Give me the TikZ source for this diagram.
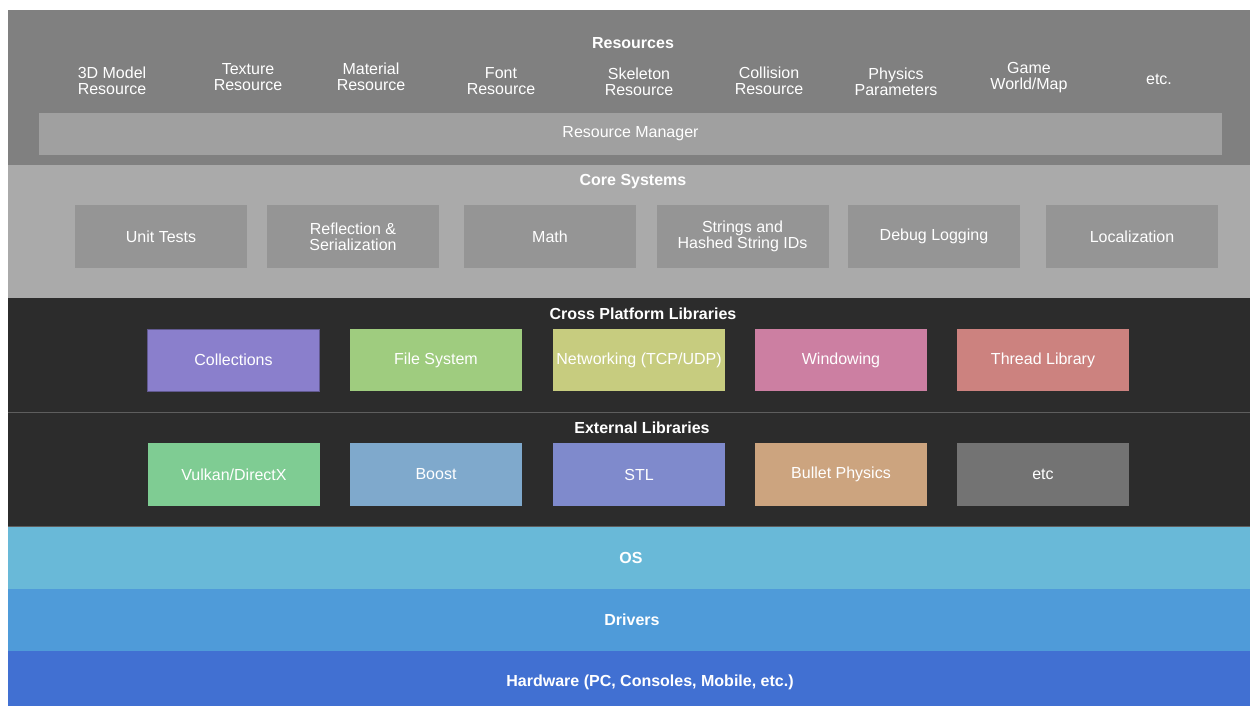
\documentclass[tikz,border=0pt]{standalone}
\usepackage{fontspec}
\setmainfont{Liberation Sans}
\usetikzlibrary{positioning}

\definecolor{resgray}{HTML}{808080}
\definecolor{mgrgray}{HTML}{A0A0A0}
\definecolor{coregray}{HTML}{AAAAAA}
\definecolor{coreboxgray}{HTML}{959595}
\definecolor{darkband}{HTML}{2C2C2C}
\definecolor{sepgray}{HTML}{5E5E5E}
\definecolor{colpurple}{HTML}{8A7FCC}
\definecolor{fsgreen}{HTML}{9FCC7F}
\definecolor{netolive}{HTML}{C7CC7F}
\definecolor{winpink}{HTML}{CC7FA2}
\definecolor{thrred}{HTML}{CC827F}
\definecolor{vkgreen}{HTML}{7FCC93}
\definecolor{boostblue}{HTML}{7FA9CC}
\definecolor{stlblue}{HTML}{7F8ACC}
\definecolor{bullettan}{HTML}{CCA47F}
\definecolor{etcgray}{HTML}{737373}
\definecolor{oscyan}{HTML}{69B9D8}
\definecolor{drvblue}{HTML}{4F9BD9}
\definecolor{hwblue}{HTML}{4170D2}

\tikzset{
	labeltext/.style={text=white, align=center, inner sep=0pt, font=\fontsize{16}{16}\selectfont},
	bandtitle/.style={text=white, inner sep=0pt, font=\bfseries\fontsize{16}{16}\selectfont},
	libbox/.style={labeltext, minimum width=172pt, minimum height=62pt},
	corebox/.style={libbox, fill=coreboxgray, minimum height=63pt},
}

\begin{document}
\begin{tikzpicture}[x=1pt, y=-1pt]
	\useasboundingbox (0,0) rectangle (1250,706);
	\fill[white] (0,0) rectangle (1250,706);

	% Bands
	\fill[resgray] (8,10) rectangle (1250,165);
	\fill[coregray] (8,165) rectangle (1250,298);
	\fill[darkband] (8,298) rectangle (1250,526);
	\fill[oscyan] (8,526) rectangle (1250,589);
	\fill[drvblue] (8,589) rectangle (1250,651);
	\fill[hwblue] (8,651) rectangle (1250,706);
	\draw[sepgray, line width=0.8pt] (8,412) -- (1250,412);
	\draw[sepgray, line width=0.8pt] (8,526) -- (1250,526);

	% Resources
	\node[bandtitle] (resources) at (633,43) {Resources};
	\node[labeltext] (model) at (112,81) {3D Model\\Resource};
	\node[labeltext] (texture) at (248,77) {Texture\\Resource};
	\node[labeltext] (material) at (371,77) {Material\\Resource};
	\node[labeltext] (font) at (501,81) {Font\\Resource};
	\node[labeltext] (skeleton) at (639,82) {Skeleton\\Resource};
	\node[labeltext] (collision) at (769,81) {Collision\\Resource};
	\node[labeltext] (physics) at (896,82) {Physics\\Parameters};
	\node[labeltext] (gameworld) at (1029,78) {Game\\World/Map};
	\node[labeltext] (resetc) at (1159,79) {etc.};
	\node[labeltext, fill=mgrgray, minimum width=1183pt, minimum height=42pt] (manager) at (630.5,134) {Resource Manager};

	% Core Systems
	\node[bandtitle] (core) at (633,182) {Core Systems};
	\node[corebox] (unittests) at (161,236.5) {Unit Tests};
	\node[corebox] (reflection) at (353,236.5) {Reflection \&\\Serialization};
	\node[corebox] (math) at (550,236.5) {Math};
	\node[corebox] (strings) at (742.5,236.5) {Strings and\\Hashed String IDs};
	\node[corebox] (debug) at (934,236.5) {Debug Logging};
	\node[corebox] (localization) at (1132,236.5) {Localization};

	% Cross Platform Libraries
	\node[bandtitle] (cross) at (643,314) {Cross Platform Libraries};
	\node[libbox, fill=colpurple, draw=colpurple!70!black, line width=0.6pt] (collections) at (233.5,360) {Collections};
	\node[libbox, fill=fsgreen] (filesystem) at (436,360) {File System};
	\node[libbox, fill=netolive] (networking) at (639,360) {Networking (TCP/UDP)};
	\node[libbox, fill=winpink] (windowing) at (841,360) {Windowing};
	\node[libbox, fill=thrred] (thread) at (1043,360) {Thread Library};

	% External Libraries
	\node[bandtitle] (external) at (642,428) {External Libraries};
	\node[libbox, fill=vkgreen, minimum height=63pt] (vulkan) at (234,474.5) {Vulkan/DirectX};
	\node[libbox, fill=boostblue, minimum height=63pt] (boost) at (436,474.5) {Boost};
	\node[libbox, fill=stlblue, minimum height=63pt] (stl) at (639,474.5) {STL};
	\node[libbox, fill=bullettan, minimum height=63pt] (bullet) at (841,474.5) {Bullet Physics};
	\node[libbox, fill=etcgray, minimum height=63pt] (extetc) at (1043,474.5) {etc};

	% OS, Drivers, Hardware
	\node[bandtitle] (os) at (631,558) {OS};
	\node[bandtitle] (drivers) at (632,620) {Drivers};
	\node[bandtitle] (hardware) at (650,682) {Hardware (PC, Consoles, Mobile, etc.)};
\end{tikzpicture}
\end{document}
